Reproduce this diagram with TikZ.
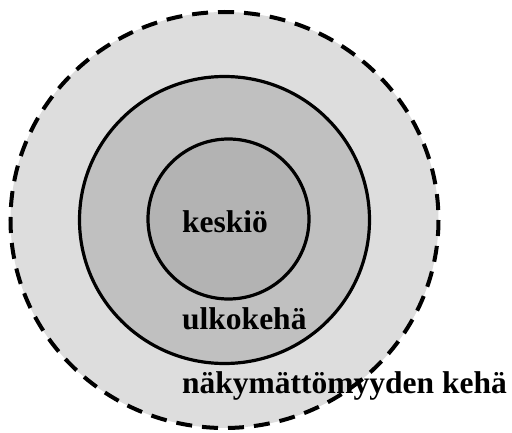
\documentclass[tikz,border=0pt]{standalone}
\usepackage{fontspec}
\setmainfont{Liberation Serif}
\usepackage{tikz}
\definecolor{ringouter}{RGB}{221,221,221}
\definecolor{ringmid}{RGB}{192,192,192}
\definecolor{ringcore}{RGB}{179,179,179}
\tikzset{
  rimdash/.style={line width=4pt, dash pattern=on 16pt off 10pt},
  rimsolid/.style={line width=3.2pt},
  ringlabel/.style={anchor=base west, inner sep=0pt,
                    font=\fontsize{31.5}{31.5}\selectfont\bfseries},
}
\begin{document}
\begin{tikzpicture}[x=1pt, y=-1pt]
  \useasboundingbox (0,0) rectangle (512,433);
  \coordinate (c) at (224.5,220);
  % fills from outside in
  \fill[ringouter] (c) ellipse [x radius=214, y radius=208];
  \fill[ringmid]   (c) ellipse [x radius=145, y radius=143.5];
  \fill[ringcore]  (228.5,219) ellipse [x radius=80.5, y radius=80];
  \draw[rimsolid]  (c) ellipse [x radius=145, y radius=143.5];
  \draw[rimsolid]  (228.5,219) ellipse [x radius=80.5, y radius=80];
  \draw[rimdash]   (c) ellipse [x radius=214, y radius=208];
  \node[ringlabel] (core)  at (182,233) {keskiö};
  \node[ringlabel] (outer) at (182,329) {ulkokehä};
  \node[ringlabel] (invis) at (182,393) {näkymättömyyden kehä};
\end{tikzpicture}
\end{document}
